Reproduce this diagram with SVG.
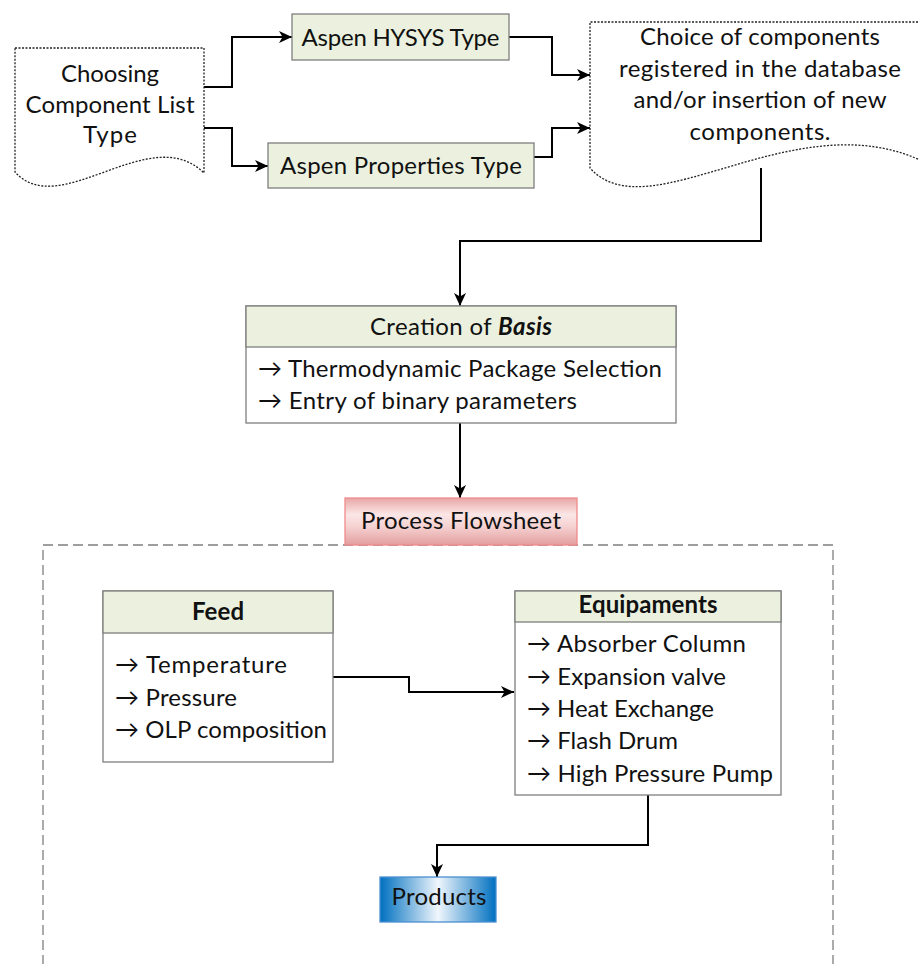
<svg xmlns="http://www.w3.org/2000/svg" width="919" height="964" viewBox="0 0 919 964">
<defs>
<style>
text{font-family:Lato,"Liberation Sans","DejaVu Sans",sans-serif;font-size:24px;fill:#111}
.c{text-anchor:middle}
.b{font-weight:bold}
.box{fill:#ffffff;stroke:#7f7f7f;stroke-width:1.3}
.hdr{fill:#ebf1de;stroke:#7f7f7f;stroke-width:1.3}
.doc{fill:#ffffff;stroke:#222;stroke-width:1.3;stroke-dasharray:2,1.5}
.ln{fill:none;stroke:#000;stroke-width:2}
</style>
<marker id="ah" markerUnits="userSpaceOnUse" markerWidth="14" markerHeight="12" refX="13" refY="6" orient="auto">
<path d="M0,0 L13,6 L0,12 L3.5,6 Z" fill="#000"/>
</marker>
<linearGradient id="pink" x1="0" y1="0" x2="0" y2="1">
<stop offset="0" stop-color="#e8a6a6"/>
<stop offset="0.35" stop-color="#fbe6e6"/>
<stop offset="0.6" stop-color="#f6d2d2"/>
<stop offset="1" stop-color="#e39e9e"/>
</linearGradient>
<linearGradient id="blue" x1="0" y1="0" x2="1" y2="0">
<stop offset="0" stop-color="#0070c0"/>
<stop offset="0.5" stop-color="#f0f6fc"/>
<stop offset="1" stop-color="#0070c0"/>
</linearGradient>
</defs>

<rect id="container" x="43" y="545" width="790" height="440" fill="none" stroke="#7f7f7f" stroke-width="1.3" stroke-dasharray="10,5"/>

<g id="connectors">
<polyline class="ln" points="204,87 232,87 232,37 292,37" marker-end="url(#ah)"/>
<polyline class="ln" points="204,128 232,128 232,166 268,166" marker-end="url(#ah)"/>
<polyline class="ln" points="509,37 552,37 552,75 590,75" marker-end="url(#ah)"/>
<polyline class="ln" points="534,157 552,157 552,128 590,128" marker-end="url(#ah)"/>
<polyline class="ln" points="761,168 761,241 460,241 460,306" marker-end="url(#ah)"/>
<polyline class="ln" points="460,423 460,498" marker-end="url(#ah)"/>
<polyline class="ln" points="333,677 409,677 409,692 514,692" marker-end="url(#ah)"/>
<polyline class="ln" points="648,795 648,845 437,845 437,877" marker-end="url(#ah)"/>
</g>

<g id="choosing">
<path class="doc" d="M15,48 H204 V173 C150,120 60,222 15,172 Z"/>
<text class="c" x="110" y="82" textLength="98" lengthAdjust="spacing">Choosing</text>
<text class="c" x="110" y="113" textLength="169" lengthAdjust="spacing">Component List</text>
<text class="c" x="110" y="143" textLength="54" lengthAdjust="spacing">Type</text>
</g>

<g id="hysys">
<rect class="hdr" x="292" y="14" width="217" height="46"/>
<text class="c" x="400.5" y="46" textLength="198" lengthAdjust="spacing">Aspen HYSYS Type</text>
</g>

<g id="properties">
<rect class="hdr" x="268" y="143" width="266" height="45"/>
<text class="c" x="401" y="174" textLength="242" lengthAdjust="spacing">Aspen Properties Type</text>
</g>

<g id="choice">
<path class="doc" d="M925,22 H590 V168 C650,235 800,95 930,165"/>
<text class="c" x="760" y="45" textLength="240" lengthAdjust="spacing">Choice of components</text>
<text class="c" x="760" y="77" textLength="282" lengthAdjust="spacing">registered in the database</text>
<text class="c" x="760" y="108" textLength="253" lengthAdjust="spacing">and/or insertion of new</text>
<text class="c" x="760" y="140" textLength="141" lengthAdjust="spacing">components.</text>
</g>

<g id="basis">
<rect class="box" x="246" y="306" width="430" height="117"/>
<rect class="hdr" x="246" y="306" width="430" height="41"/>
<text class="c" x="461" y="335" textLength="182" lengthAdjust="spacing">Creation of <tspan font-weight="bold" font-style="italic">Basis</tspan></text>
<text x="258" y="377" textLength="404" lengthAdjust="spacing">→ Thermodynamic Package Selection</text>
<text x="258" y="409" textLength="319" lengthAdjust="spacing">→ Entry of binary parameters</text>
</g>

<g id="flowsheet">
<rect x="345" y="498" width="232" height="47" fill="url(#pink)" stroke="#f28b8b" stroke-width="1.3"/>
<text class="c" x="461" y="529" textLength="200" lengthAdjust="spacing">Process Flowsheet</text>
</g>

<g id="feed">
<rect class="box" x="103" y="591" width="230" height="171"/>
<rect class="hdr" x="103" y="591" width="230" height="42"/>
<text class="c b" x="218" y="620" textLength="52" lengthAdjust="spacing">Feed</text>
<text x="115" y="673" textLength="172" lengthAdjust="spacing">→ Temperature</text>
<text x="115" y="706" textLength="122" lengthAdjust="spacing">→ Pressure</text>
<text x="115" y="738" textLength="212" lengthAdjust="spacing">→ OLP composition</text>
</g>

<g id="equipaments">
<rect class="box" x="515" y="591" width="266" height="204"/>
<rect class="hdr" x="515" y="591" width="266" height="31"/>
<text class="c b" x="648" y="613" textLength="139" lengthAdjust="spacing">Equipaments</text>
<text x="527" y="652" textLength="219" lengthAdjust="spacing">→ Absorber Column</text>
<text x="527" y="684.5" textLength="199" lengthAdjust="spacing">→ Expansion valve</text>
<text x="527" y="717" textLength="187" lengthAdjust="spacing">→ Heat Exchange</text>
<text x="527" y="749" textLength="151" lengthAdjust="spacing">→ Flash Drum</text>
<text x="527" y="781.5" textLength="246" lengthAdjust="spacing">→ High Pressure Pump</text>
</g>

<g id="products">
<rect x="380" y="877" width="116" height="45" fill="url(#blue)" stroke="#4a90d0" stroke-width="1.3"/>
<text class="c" x="439" y="905" textLength="95" lengthAdjust="spacing">Products</text>
</g>
</svg>
